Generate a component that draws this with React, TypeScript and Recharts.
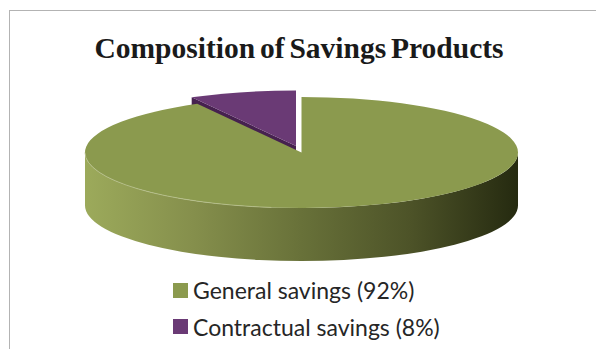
import { Legend, Pie, PieChart } from 'recharts'

// Painted back to front: the pulled-out slice has to sit under the big one.
const categories = ['Contractual savings (8%)', 'General savings (92%)']
const shares = [8, 92]
const legendOrder = ['General savings (92%)', 'Contractual savings (8%)']
const sliceColors = ['#6A3A75', '#8B9A4E']
const sliceEdgeColors = ['#46214F', '#8B9A4E']

const W = 596
const H = 349
const PIE_CX = 301.5
const PIE_CY = 152.5
const PIE_RX = 216.5
const TILT = 55.5 / 216.5 // ry / rx of the flattened disc
const DEPTH = 53
const EXPLODED = 'Contractual savings (8%)'
const EXPLODE_DX = -5.5
const EXPLODE_DY = -6.5

const tableData = categories.map((name, i) => ({
  name,
  value: shares[i],
  fill: sliceColors[i],
  edge: sliceEdgeColors[i],
}))

const point = (cx: number, cy: number, r: number, deg: number) => {
  const a = (deg * Math.PI) / 180
  return { x: cx + r * Math.cos(a), y: cy - r * TILT * Math.sin(a) }
}

// Recharts hands over the slice angles, we flatten them into an extruded wedge
function DiscSlice(props: any) {
  const { cx, cy, outerRadius: r, startAngle, endAngle, fill, payload } = props
  const exploded = payload.name === EXPLODED
  const x0 = cx + (exploded ? EXPLODE_DX : 0)
  const y0 = cy + (exploded ? EXPLODE_DY : 0)
  const ry = r * TILT
  const from = point(x0, y0, r, startAngle)
  const to = point(x0, y0, r, endAngle)
  const large = Math.abs(endAngle - startAngle) > 180 ? 1 : 0
  const top = `M${x0},${y0} L${from.x},${from.y} A${r},${ry} 0 ${large} 1 ${to.x},${to.y} Z`

  if (exploded) {
    // only the cut face on the left shows, the big slice hides the rest of it
    const rim = point(x0, y0, r, startAngle)
    const side = `M${x0},${y0} L${rim.x},${rim.y} L${rim.x},${rim.y + DEPTH} L${x0},${y0 + DEPTH} Z`
    return (
      <g>
        <path d={side} fill={payload.edge} />
        <path d={top} fill={fill} />
      </g>
    )
  }

  const left = x0 - r
  const right = x0 + r
  const wall = `M${left},${y0} A${r},${ry} 0 0 0 ${right},${y0} L${right},${y0 + DEPTH} A${r},${ry} 0 0 1 ${left},${y0 + DEPTH} Z`
  const end = point(x0, y0, r, 262)
  return (
    <g>
      <path d={wall} fill="url(#wallShade)" />
      <path d={top} fill={fill} />
      <path d={`M${left},${y0} A${r},${ry} 0 0 0 ${end.x},${end.y}`} fill="none" stroke="#B9C28E" strokeWidth={0.8} />
    </g>
  )
}

function SavingsLegend() {
  return (
    <div style={{ fontFamily: 'Lato, sans-serif', fontSize: 23, color: '#262626' }}>
      {legendOrder.map((label) => {
        const slice = tableData.find((d) => d.name === label)
        return (
          <div key={label} style={{ display: 'flex', alignItems: 'center', height: 36.5, whiteSpace: 'nowrap' }}>
            <span style={{ width: 15, height: 15, background: slice?.fill, marginRight: 5, flex: 'none' }} />
            {label}
          </div>
        )
      })}
    </div>
  )
}

export default function App() {
  return (
    <div style={{ position: 'fixed', left: 0, top: 0, width: W, height: H, background: '#fff', overflow: 'hidden' }}>
      {/* chart frame runs off the right and bottom of the page */}
      <div
        style={{
          position: 'absolute',
          left: 9,
          top: 10,
          width: W,
          height: H,
          borderLeft: '1.5px solid #B3B3B3',
          borderTop: '1.5px solid #B3B3B3',
        }}
      />
      <PieChart
        width={W}
        height={H}
        margin={{ top: 0, right: 0, bottom: 0, left: 0 }}
        style={{ position: 'absolute', left: 0, top: 0 }}
      >
        <defs>
          <linearGradient id="wallShade" x1="0" y1="0" x2="1" y2="0">
            <stop offset="0" stopColor="#9CAA5B" />
            <stop offset="0.25" stopColor="#858F4C" />
            <stop offset="0.5" stopColor="#687139" />
            <stop offset="0.75" stopColor="#4D5328" />
            <stop offset="1" stopColor="#252A10" />
          </linearGradient>
        </defs>
        <text
          x={299}
          y={58}
          textAnchor="middle"
          wordSpacing={-2.5}
          style={{ fontFamily: '"Liberation Serif", serif', fontWeight: 700, fontSize: 29.5 }}
          fill="#1A1A1A"
        >
          Composition of Savings Products
        </text>
        <Pie
          data={tableData}
          dataKey="value"
          nameKey="name"
          cx={PIE_CX}
          cy={PIE_CY}
          outerRadius={PIE_RX}
          startAngle={118.8}
          endAngle={-241.2}
          stroke="none"
          shape={DiscSlice}
          isAnimationActive={false}
        />
        <Legend
          content={<SavingsLegend />}
          wrapperStyle={{ position: 'absolute', left: 173, top: 272, width: 'auto', bottom: 'auto' }}
        />
      </PieChart>
    </div>
  )
}
